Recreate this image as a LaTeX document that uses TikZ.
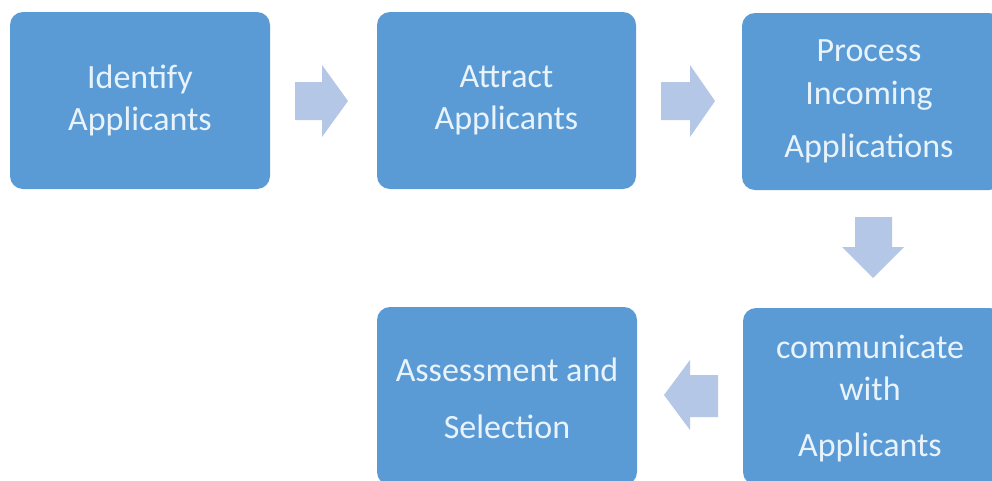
\documentclass[tikz,border=0pt]{standalone}
\usepackage{fontspec}
\setmainfont{Carlito}
\definecolor{boxc}{RGB}{91,155,213}
\definecolor{arrc}{RGB}{180,199,231}
\definecolor{txtc}{RGB}{232,243,252}
\tikzset{
  stepbox/.style={fill=boxc, rounded corners=13pt, inner sep=0pt,
    text=txtc, align=center, font=\fontsize{34}{42}\selectfont},
  blockarrow/.style={fill=arrc, draw=none}
}
\begin{document}
\begin{tikzpicture}[x=1pt,y=-1pt]
\useasboundingbox (0,0) rectangle (992,480);
\fill[white] (0,0) rectangle (992,480);
% boxes
\path[stepbox] (10,12) rectangle (270,189) node[midway] (b1) {Identify\\Applicants};
\path[stepbox] (377,12) rectangle (636,189) node[midway] (b2) {Attract\\Applicants};
\path[stepbox] (742,13) rectangle (1002,190) node[midway,xshift=-3pt] (b3) {Process\\[1pt]Incoming\\[11pt]Applications};
\path[stepbox] (743,308) rectangle (1003,485) node[midway,xshift=-3pt,yshift=-2pt] (b4) {communicate\\with\\[14pt]Applicants};
\path[stepbox] (377,307) rectangle (637,485) node[midway,yshift=-2pt] (b5) {Assessment and\\[15pt]Selection};
% block arrows
\fill[blockarrow] (295,82) -- (322,82) -- (322,65) -- (348,101) -- (322,137) -- (322,120) -- (295,120) -- cycle;
\fill[blockarrow] (661,82) -- (690,82) -- (690,65) -- (715,101) -- (690,137) -- (690,120) -- (661,120) -- cycle;
\fill[blockarrow] (855,217) -- (892,217) -- (892,247) -- (904,247) -- (873,278) -- (842,247) -- (855,247) -- cycle;
\fill[blockarrow] (718,375) -- (690,375) -- (690,360) -- (664,395) -- (690,430) -- (690,417) -- (718,417) -- cycle;
\end{tikzpicture}
\end{document}
